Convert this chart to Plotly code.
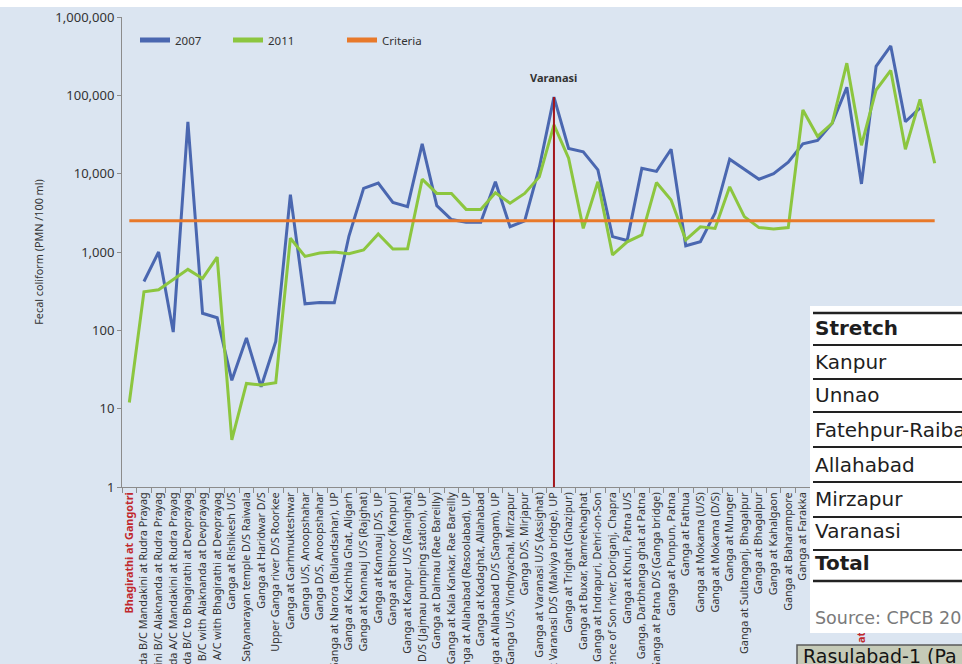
import math
import plotly.graph_objects as go

stations = [
    "Bhagirathi at Gangotri",
    "Alaknanda B/C Mandakini at Rudra Prayag",
    "Mandakini B/C Alaknanda at Rudra Prayag",
    "Alaknanda A/C Mandakini at Rudra Prayag",
    "Alaknanda B/C to Bhagirathi at Devprayag",
    "Bhagirathi B/C with Alaknanda at Devprayag",
    "Alaknanda A/C with Bhagirathi at Devprayag",
    "Ganga at Rishikesh U/S",
    "Ganga at Satyanarayan temple D/S Raiwala",
    "Ganga at Haridwar D/S",
    "Upper Ganga river D/S Roorkee",
    "Ganga at Garhmukteshwar",
    "Ganga U/S, Anoopshahar",
    "Ganga D/S, Anoopshahar",
    "Ganga at Narora (Bulandsahar), UP",
    "Ganga at Kachhla Ghat, Aligarh",
    "Ganga at Kannauj U/S (Rajghat)",
    "Ganga at Kannauj D/S, UP",
    "Ganga at Bithoor (Kanpur)",
    "Ganga at Kanpur U/S (Ranighat)",
    "Ganga at Kanpur D/S (Jajmau pumping station), UP",
    "Ganga at Dalmau (Rae Bareilly)",
    "Ganga at Kala Kankar, Rae Bareilly",
    "Ganga at Allahabad (Rasoolabad), UP",
    "Ganga at Kadaghat, Allahabad",
    "Ganga at Allahabad D/S (Sangam), UP",
    "Ganga U/S, Vindhyachal, Mirzapur",
    "Ganga D/S, Mirjapur",
    "Ganga at Varanasi U/S (Assighat)",
    "Ganga at Varanasi D/S (Malviya bridge), UP",
    "Ganga at Trighat (Ghazipur)",
    "Ganga at Buxar, Ramrekhaghat",
    "Ganga at Indrapuri, Dehri-on-Son",
    "Ganga at confluence of Son river, Doriganj, Chapra",
    "Ganga at Khuri, Patna U/S",
    "Ganga, Darbhanga ghat at Patna",
    "Ganga at Patna D/S (Ganga bridge)",
    "Ganga at Punpun, Patna",
    "Ganga at Fathua",
    "Ganga at Mokama (U/S)",
    "Ganga at Mokama (D/S)",
    "Ganga at Munger",
    "Ganga at Sultanganj, Bhagalpur",
    "Ganga at Bhagalpur",
    "Ganga at Kahalgaon",
    "Ganga at Baharampore",
    "Ganga at Farakka",
    "Ganga at Jangipur",
    "Ganga at Palta",
    "Ganga at Serampore",
    "Hooghly at Nabadwip, Dakshineswar",
    "Ganga at Howrah-Shivpur",
    "Ganga at Garden Reach",
    "Ganga at Uluberia",
    "Ganga at Diamond Harbour",
    "Ganga at Gangasagar",
]

red_labels = ["Bhagirathi at Gangotri", "Hooghly at Nabadwip, Dakshineswar"]

fc_2007 = [None, 420, 1000, 95, 46000, 165, 145, 23, 80, 19,
           72, 5400, 218, 226, 225, 1600, 6500, 7600, 4300, 3800,
           24000, 3900, 2600, 2400, 2400, 7900, 2100, 2500, 12000, 95000,
           21000, 19000, 11200, 1570, 1400, 11700, 10700, 20500, 1200, 1350,
           3140, 15300, 11400, 8500, 10000, 14000, 24000, 26500, 44000, 127000,
           7400, 235000, 427000, 46000, 69000, None]

fc_2011 = [12, 310, 330, 440, 600, 460, 860, 4, 21, 20,
           21.5, 1500, 880, 970, 1000, 950, 1060, 1700, 1090, 1100,
           8500, 5600, 5600, 3500, 3500, 5700, 4200, 5600, 9100, 42000,
           15800, 2000, 7900, 920, 1350, 1650, 7700, 4600, 1430, 2100,
           2000, 6800, 2830, 2050, 1970, 2050, 65000, 30000, 44000, 257000,
           23000, 117000, 208000, 20500, 89000, 13600]

criteria_value = 2500
criteria = [criteria_value for _ in stations]

y_tickvals = [1, 10, 100, 1000, 10000, 100000, 1000000]
y_ticktext = ["1", "10", "100", "1,000", "10,000", "100,000", "1,000,000"]

highlight_station = "Ganga at Varanasi D/S (Malviya bridge), UP"
highlight_label = "Varanasi"

table_rows = ["Stretch", "Kanpur", "Unnao", "Fatehpur-Raiba", "Allahabad",
              "Mirzapur", "Varanasi", "Total"]
table_bold = ["Stretch", "Total"]
table_source = "Source: CPCB 20"
below_text = "Rasulabad-1 (Pa"

# ---------------------------------------------------------------
W, H = 962, 664
L, R, T, B = 122, 20, 17, 177
PW, PH = W - L - R, H - T - B


def px(xp):
    return (xp - L) / PW


def py(yp):
    return (H - B - yp) / PH


BLUE = "#4a67b0"
GREEN = "#8cc63f"
ORANGE = "#e8792a"
DARKRED = "#a3161c"
BG = "#dbe5f1"
TXT = "#333333"

tick_text = [
    (f'<span style="color:#c0282d"><b>{s}</b></span>' if s in red_labels else s)
    for s in stations
]

fig = go.Figure()
fig.add_trace(go.Scatter(x=stations, y=fc_2007, name="2007", mode="lines",
                         line=dict(color=BLUE, width=3), legendwidth=48))
fig.add_trace(go.Scatter(x=stations, y=fc_2011, name="2011", mode="lines",
                         line=dict(color=GREEN, width=3), legendwidth=69))
fig.add_trace(go.Scatter(x=stations, y=criteria, name="Criteria", mode="lines",
                         line=dict(color=ORANGE, width=3)))

hi = stations.index(highlight_station)
shapes = [
    # white strip at the very top of the picture
    dict(type="rect", xref="paper", yref="paper", x0=-0.3, x1=1.2,
         y0=py(7), y1=py(-20), fillcolor="white", line=dict(width=0), layer="below"),
    # Varanasi marker line
    dict(type="line", xref="x", yref="y", x0=hi, x1=hi, y0=1, y1=fc_2007[hi],
         line=dict(color=DARKRED, width=2), layer="above"),
    # overlaid table box
    dict(type="rect", xref="paper", yref="paper", x0=px(810), x1=px(970),
         y0=py(633), y1=py(306), fillcolor="white", line=dict(width=0), layer="above"),
    # strip below the table
    dict(type="rect", xref="paper", yref="paper", x0=px(797), x1=px(970),
         y0=py(680), y1=py(645), fillcolor="#c5cab7",
         line=dict(color="#5a5a5a", width=1.5), layer="above"),
]
table_lines = [313, 345, 379, 412, 447, 482, 517, 550, 581]
for i, yl in enumerate(table_lines):
    shapes.append(dict(type="line", xref="paper", yref="paper", x0=px(813), x1=px(970),
                       y0=py(yl), y1=py(yl),
                       line=dict(color="#222222", width=2.5 if i in (0, len(table_lines) - 1) else 2),
                       layer="above"))

annotations = [
    dict(x=hi, y=math.log10(fc_2007[hi]), xref="x", yref="y", text=f"<b>{highlight_label}</b>",
         showarrow=False, yanchor="bottom", yshift=10,
         font=dict(family="Noto Sans", size=11, color="#333333")),
]
row_centers = [328, 362, 395, 430, 465, 499, 531, 563]
for txt, yc in zip(table_rows, row_centers):
    annotations.append(dict(x=px(813), y=py(yc), xref="paper", yref="paper",
                            text=(f"<b>{txt}</b>" if txt in table_bold else txt),
                            showarrow=False, xanchor="left", yanchor="middle",
                            font=dict(family="DejaVu Sans", size=20, color="#1e1e1e")))
annotations.append(dict(x=px(813), y=py(618), xref="paper", yref="paper", text=table_source,
                        showarrow=False, xanchor="left", yanchor="middle",
                        font=dict(family="DejaVu Sans", size=17.5, color="#7a7a7a")))
annotations.append(dict(x=px(801), y=py(656), xref="paper", yref="paper", text=below_text,
                        showarrow=False, xanchor="left", yanchor="middle",
                        font=dict(family="DejaVu Sans", size=19, color="#151515")))

fig.update_layout(
    width=W, height=H, autosize=False,
    margin=dict(l=L, r=R, t=T, b=B, pad=0),
    paper_bgcolor=BG, plot_bgcolor=BG,
    showlegend=True,
    legend=dict(orientation="h", x=px(135), xanchor="left", y=py(40), yanchor="middle",
                bgcolor="rgba(0,0,0,0)", entrywidthmode="pixels",
                font=dict(family="Noto Sans", size=11.5, color="#333333"),
                itemsizing="constant"),
    shapes=shapes,
    annotations=annotations,
    xaxis=dict(type="category", range=[-0.5, len(stations) - 0.5],
               tickmode="array", tickvals=stations, ticktext=tick_text,
               tickangle=-90, tickson="boundaries",
               showline=True, linecolor="#8c8c8c", linewidth=1,
               ticks="outside", ticklen=5, tickcolor="#8c8c8c",
               showgrid=False, zeroline=False, automargin=False,
               tickfont=dict(family="Noto Sans", size=10.8, color=TXT)),
    yaxis=dict(type="log", range=[0, 6], tickmode="array",
               tickvals=y_tickvals, ticktext=y_ticktext,
               showline=True, linecolor="#8c8c8c", linewidth=1,
               ticks="outside", ticklen=4, tickcolor="#8c8c8c",
               showgrid=False, zeroline=False, automargin=False,
               tickfont=dict(family="Noto Sans", size=13, color="#333333"),
               title=dict(text="Fecal coliform (PMN /100 ml)", standoff=9,
                          font=dict(family="Noto Sans", size=10.8, color="#333333"))),
)

fig.write_html("out.html")
